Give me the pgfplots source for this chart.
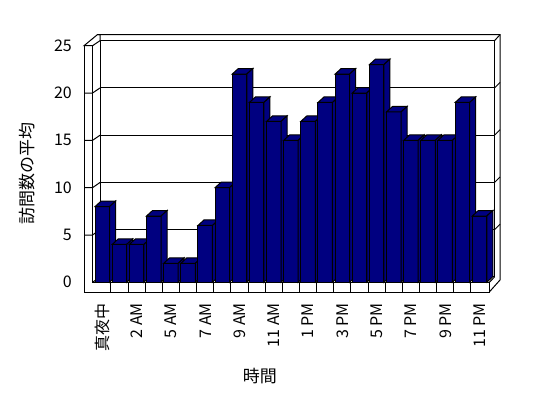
\documentclass[border=0pt]{standalone}
\usepackage{fontspec}
\setmainfont{Noto Sans CJK JP}
\usepackage{pgfplots}
\pgfplotsset{compat=1.18}
\usepackage{pgfplotstable}
\definecolor{barblue}{HTML}{000080}
\pgfplotstableread{
i v
0 8
1 4
2 4
3 7
4 2
5 2
6 6
7 10
8 22
9 19
10 17
11 15
12 17
13 19
14 22
15 20
16 23
17 18
18 15
19 15
20 15
21 19
22 7
}\datatable
\pgfdeclareplotmark{bar3d}{%
  \pgfmathsetmacro\bh{9.4622*\barv}%
  \pgfsetlinewidth{1pt}%
  \pgfsetstrokecolor{black}\pgfsetfillcolor{barblue}%
  \pgfpathrectanglecorners{\pgfpoint{-7.25pt}{-\bh pt}}{\pgfpoint{7.25pt}{0pt}}%
  \pgfusepath{fill,stroke}%
  \pgfpathmoveto{\pgfpoint{-7.25pt}{0pt}}%
  \pgfpathlineto{\pgfpoint{7.25pt}{0pt}}%
  \pgfpathlineto{\pgfpoint{13.25pt}{5.5pt}}%
  \pgfpathlineto{\pgfpoint{-1.25pt}{5.5pt}}%
  \pgfpathclose\pgfusepath{fill,stroke}%
  \pgfpathmoveto{\pgfpoint{7.25pt}{0pt}}%
  \pgfpathlineto{\pgfpoint{13.25pt}{5.5pt}}%
  \pgfpathlineto{\pgfpoint{13.25pt}{5.5pt-\bh pt}}%
  \pgfpathlineto{\pgfpoint{7.25pt}{-\bh pt}}%
  \pgfpathclose\pgfusepath{fill,stroke}%
}
\begin{document}
\begin{tikzpicture}
\useasboundingbox (0,0) rectangle (548pt,398pt);
% back wall with grid
\begin{axis}[at={(100pt,121pt)}, anchor=south west, scale only axis,
  width=394.5pt, height=236.3pt, xmin=0, xmax=1, ymin=0, ymax=25,
  xtick=\empty, ytick={5,10,15,20}, yticklabels={}, ymajorgrids,
  grid style={black, line width=1pt}, axis line style={black, line width=1pt},
  ytick style={draw=none}]
\addplot[draw=none] coordinates {(0,0)};
\end{axis}
% frame: walls and floor, in reference pixel coordinates
\begin{axis}[at={(0pt,0pt)}, anchor=south west, scale only axis,
  width=548pt, height=398pt, xmin=0, xmax=548, ymin=0, ymax=398,
  y dir=reverse, hide axis, clip=false]
\addplot[fill=white, draw=black, line width=1pt] coordinates {(84,45.75) (92.5,45.75) (100,40.7) (100,34.7) (97.3,34.7)} -- cycle;
\addplot[black, line width=1pt] coordinates {(97.3,34.7) (500,34.7) (500,280) (489.3,292)};
\addplot[black, line width=1pt] coordinates {(494.5,40.7) (500,34.7)};
\addplot[black, line width=1pt] coordinates {(494.5,87.96) (500,82.46)};
\addplot[black, line width=1pt] coordinates {(494.5,135.22) (500,129.72)};
\addplot[black, line width=1pt] coordinates {(494.5,182.48) (500,176.98)};
\addplot[black, line width=1pt] coordinates {(494.5,229.74) (500,224.24)};
\addplot[black, line width=1pt] coordinates {(489.3,282.3) (494.5,277)};
\addplot[black, line width=1pt] coordinates {(92.5,45.75) (84,45.75) (84,292) (489.3,292) (489.3,282.3) (92.5,282.3) (92.5,45.75)};
\addplot[black, line width=1pt] coordinates {(84,93.06) (92.5,93.06) (100,87.96)};
\addplot[black, line width=1pt] coordinates {(84,140.4) (92.5,140.4) (100,135.22)};
\addplot[black, line width=1pt] coordinates {(84,187.7) (92.5,187.7) (100,182.48)};
\addplot[black, line width=1pt] coordinates {(84,235.0) (92.5,235.0) (100,229.74)};
\addplot[black, line width=1pt] coordinates {(92.5,282.3) (100,277)};
\addplot[black, line width=1pt, unbounded coords=jump] coordinates {
(110.92,282.3) (110.92,292) (110.92,inf)
(128.07,282.3) (128.07,292) (128.07,inf)
(145.21,282.3) (145.21,292) (145.21,inf)
(162.36,282.3) (162.36,292) (162.36,inf)
(179.50,282.3) (179.50,292) (179.50,inf)
(196.65,282.3) (196.65,292) (196.65,inf)
(213.79,282.3) (213.79,292) (213.79,inf)
(230.94,282.3) (230.94,292) (230.94,inf)
(248.08,282.3) (248.08,292) (248.08,inf)
(265.23,282.3) (265.23,292) (265.23,inf)
(282.37,282.3) (282.37,292) (282.37,inf)
(299.52,282.3) (299.52,292) (299.52,inf)
(316.66,282.3) (316.66,292) (316.66,inf)
(333.81,282.3) (333.81,292) (333.81,inf)
(350.95,282.3) (350.95,292) (350.95,inf)
(368.10,282.3) (368.10,292) (368.10,inf)
(385.24,282.3) (385.24,292) (385.24,inf)
(402.39,282.3) (402.39,292) (402.39,inf)
(419.53,282.3) (419.53,292) (419.53,inf)
(436.68,282.3) (436.68,292) (436.68,inf)
(453.82,282.3) (453.82,292) (453.82,inf)
(470.97,282.3) (470.97,292)
};
\end{axis}
% front: bars and labels
\begin{axis}[at={(84pt,106pt)}, anchor=south west, scale only axis,
  width=405.3pt, height=246.3pt,
  xmin=-1.07, xmax=22.57, ymin=-1.03, ymax=25,
  clip=false,
  axis line style={draw=none}, tick style={draw=none},
  xtick={0,2,...,22},
  xticklabels={真夜中,2 AM,5 AM,7 AM,9 AM,11 AM,1 PM,3 PM,5 PM,7 PM,9 PM,11 PM},
  ytick={0,5,...,25},
  /pgf/number format/assume math mode=true,
  tick label style={font=\fontsize{16}{18}\selectfont},
  yticklabel style={anchor=east, inner sep=0pt, xshift=-12pt},
  xticklabel style={rotate=90, anchor=east, inner sep=0pt},
  xticklabel shift=11pt,
  ylabel={訪問数の平均},
  ylabel style={at={(axis description cs:-0.14,0.483)}, anchor=center, font=\fontsize{17}{19}\selectfont},
  xlabel={時間},
  xlabel style={at={(axis description cs:0.434,-0.341)}, anchor=center, font=\fontsize{17}{19}\selectfont},
]
\addplot[scatter, only marks, mark=bar3d,
  scatter/use mapped color={draw=black, fill=barblue},
  visualization depends on={y \as \barv}]
  table[x=i, y=v] {\datatable};
\end{axis}
\end{tikzpicture}
\end{document}
